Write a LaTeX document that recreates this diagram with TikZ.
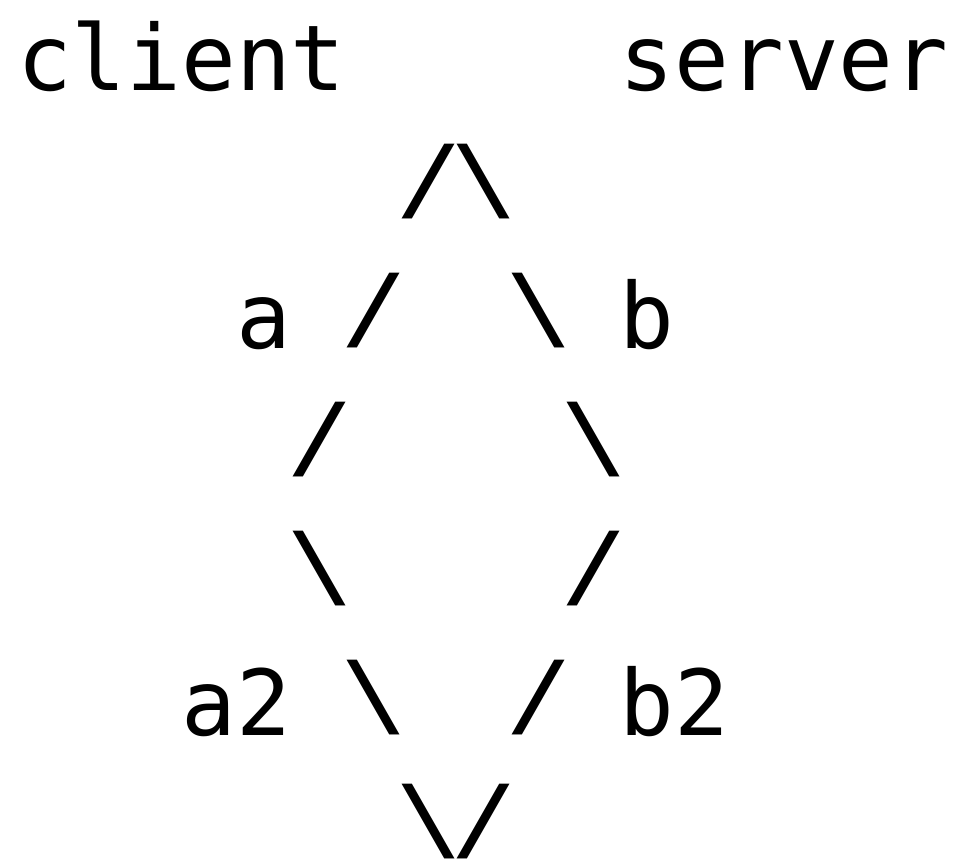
\documentclass[tikz,border=0pt]{standalone}
\usepackage{graphicx}
\usepackage{fontspec}
\setmonofont{DejaVu Sans Mono}
\newcommand{\slsh}{\scalebox{1.22}[1]{/}}
\newcommand{\bslsh}{\scalebox{1.22}[1]{\textbackslash}}
\begin{document}
\begin{tikzpicture}[x=1pt,y=-1pt,
  txt/.style={font=\ttfamily\fontsize{91}{91}\selectfont, inner sep=0pt, outer sep=0pt, anchor=base west, text=black},
  sl/.style={txt, yshift=9pt, xshift=-4pt}]
\useasboundingbox[fill=white] (0,0) rectangle (953,865);
% row 1
\node[txt] (client) at (17,90) {client};
\node[txt] (server) at (619.8,90) {server};
% row 2
\node[sl] (r2l) at (400.6,219) {\slsh};
\node[sl] (r2r) at (455.4,219) {\bslsh};
% row 3
\node[txt] (a) at (236.2,348) {a};
\node[sl] (r3l) at (345.8,348) {\slsh};
\node[sl] (r3r) at (510.2,348) {\bslsh};
\node[txt] (b) at (619.8,348) {b};
% row 4
\node[sl] (r4l) at (291,477) {\slsh};
\node[sl] (r4r) at (565,477) {\bslsh};
% row 5
\node[sl] (r5l) at (291,606) {\bslsh};
\node[sl] (r5r) at (565,606) {\slsh};
% row 6
\node[txt] (a2) at (181.4,735) {a2};
\node[sl] (r6l) at (345.8,735) {\bslsh};
\node[sl] (r6r) at (510.2,735) {\slsh};
\node[txt] (b2) at (619.8,735) {b2};
% row 7
\node[sl] (r7l) at (400.6,859) {\bslsh};
\node[sl] (r7r) at (455.4,859) {\slsh};
\end{tikzpicture}
\end{document}
